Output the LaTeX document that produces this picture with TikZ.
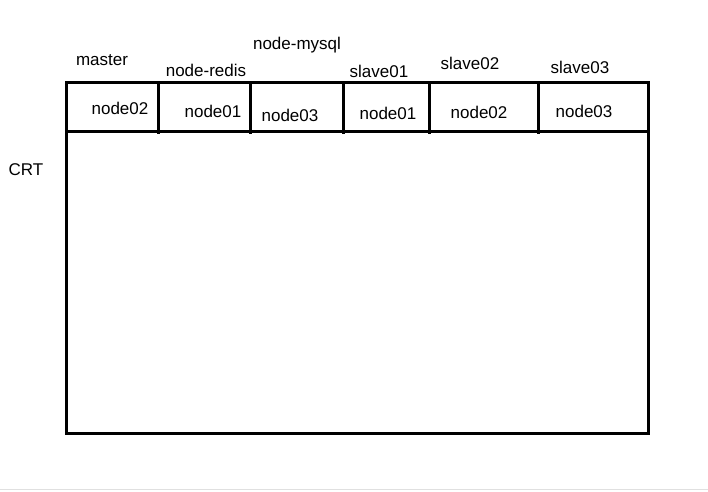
\documentclass[tikz,border=0pt]{standalone}
\usepackage{fontspec}
\setmainfont{Liberation Sans}
\usepackage{tikz}

\begin{document}
\begin{tikzpicture}[x=1pt, y=-1pt, line width=3pt,
        lbl/.style={font=\fontsize{17}{20}\selectfont, inner sep=0pt}]
            \useasboundingbox[fill=white] (0, 0) rectangle (708, 491);
            \draw[line width=1pt, black!12] (0, 489) -- (708, 489);

            \draw (66, 82) rectangle (648, 433);
            \draw (66, 131) -- (648, 131);
            \foreach \x in {158, 250, 343, 429, 538}
                \draw (\x, 82) -- (\x, 134);

            \node[lbl] (crt) at (26, 170) {CRT};

            \node[lbl] (master) at (102, 60) {master};
            \node[lbl] (redis) at (206, 70) {node-redis};
            \node[lbl] (mysql) at (297, 45) {node-mysql};
            \node[lbl] (slaveA) at (379, 71) {slave01};
            \node[lbl] (slaveB) at (470, 63) {slave02};
            \node[lbl] (slaveC) at (580, 67) {slave03};

            \node[lbl] (masterhost) at (120, 108) {node02};
            \node[lbl] (redishost) at (213, 111) {node01};
            \node[lbl] (mysqlhost) at (290, 115) {node03};
            \node[lbl] (slaveAhost) at (388, 113) {node01};
            \node[lbl] (slaveBhost) at (479, 112) {node02};
            \node[lbl] (slaveChost) at (584, 111) {node03};
        \end{tikzpicture}
\end{document}
